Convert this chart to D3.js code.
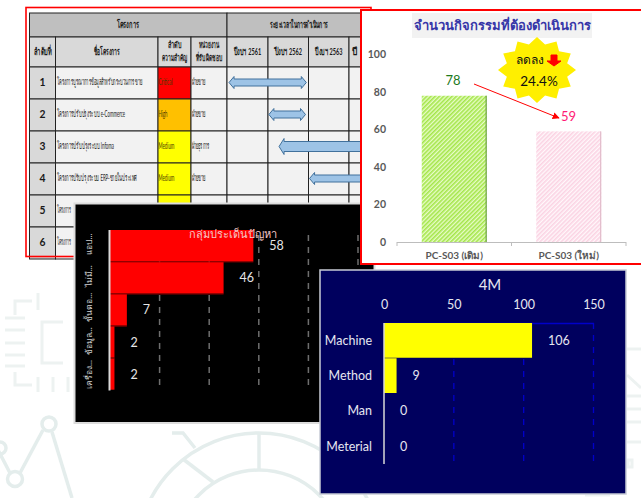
<!DOCTYPE html>
<html><head><meta charset="utf-8">
<script src="https://cdn.jsdelivr.net/npm/d3@7"></script>
<style>html,body{margin:0;padding:0;background:#fff}svg{display:block}text{font-family:Lato,"Noto Sans",sans-serif}</style>
</head><body><div id="c"></div>
<script>
// ---- data ----
const tableIds = [1,2,3,4,5,6];
const tableNames = ["โครงการบูรณาการข้อมูลสำหรับกระบวนการขาย","โครงการปรับปรุงระบบ e-Commerce","โครงการปรับปรุงระบบ Infoma","โครงการปรับปรุงระบบ ERP-ขายในประเทศ","โครงการ","โครงการ"];
const tablePriority = ["Critical","High","Medium","Medium"];
const tableUnits = ["ฝ่ายขาย","ฝ่ายขาย","ฝ่ายธุรการ","ฝ่ายขาย"];
const tableYears = ["ปีงบฯ 2561","ปีงบฯ 2562","ปีงบฯ 2563","ปี"];
const tableStart = [2561.05,2562.03,2562.28,2563.03,null,null];
const tableEnd = [2562.95,2562.93,2565.2,2565.2,null,null];
const actCats = ["PC-S03 (เดิม)","PC-S03 (ใหม่)"];
const actVals = [78,59];
const issueCats = ["แอป...","ไม่มี...","ขั้นตอ...","ข้อมูล...","เครื่อง..."];
const issueVals = [58,46,7,2,2];
const mCats = ["Machine","Method","Man","Meterial"];
const mVals = [106,9,0,0];

const W=641,H=498;
const svg=d3.select("#c").append("svg").attr("width",W).attr("height",H);
const defs=svg.append("defs");
function hatch(id,bg,fg){
  const p=defs.append("pattern").attr("id",id).attr("width",3).attr("height",3).attr("patternUnits","userSpaceOnUse").attr("patternTransform","rotate(-45)");
  p.append("rect").attr("width",3).attr("height",3).attr("fill",bg);
  p.append("rect").attr("width",3).attr("height",1.6).attr("fill",fg);
}
hatch("hg","#e8fcc8","#a4e64a");
hatch("hp","#fff8fb","#fbd3e3");
defs.append("marker").attr("id","ah").attr("viewBox","0 0 10 10").attr("refX",9).attr("refY",5).attr("markerWidth",7).attr("markerHeight",7).attr("markerUnits","userSpaceOnUse").attr("orient","auto")
  .append("path").attr("d","M0,0L10,5L0,10Z").attr("fill","#f00");

// ---- watermark background ----
const wmPale=svg.append("g").attr("fill","none").attr("stroke","#edf2f1").attr("stroke-width",3);
["M32,301H15V315","M38,293V310","M5,318H25","M5,330H25","M5,343H25","M5,355H25","M5,366H25","M63,322H42V363H63","M15,372V385H32","M38,377V392","M53,377V392","M68,377V392",
 "M627,349H641","M627,375L641,388","M627,396H641","M627,409H641","M627,422H641","M627,442H641","M628,460H632V467H628Z","M585,495H610"
].forEach(d=>wmPale.append("path").attr("d",d));
const wm=svg.append("g").attr("fill","none").attr("stroke","#e4edec").attr("stroke-width",3.5);
["M-2,450L10,473","M20,473L43,430","M52,432L72,498","M183,459L213,482","M172,433H183L195,448","M259,433V470"].forEach(d=>wm.append("path").attr("d",d));
[[49,424,7],[15,479,7.5],[0,448,6],[259,555,122],[259,555,85]].forEach(c=>wm.append("circle").attr("cx",c[0]).attr("cy",c[1]).attr("r",c[2]));

// ---- table panel ----
const T=svg.append("g");
const colX=[29.5,55.5,158,191,227,268,308.5,349,390];
const rowY=[13,37,67,99,131,163,195,227,259];
const cell=(x0,x1,y0,y1,f)=>T.append("rect").attr("x",x0).attr("y",y0).attr("width",x1-x0).attr("height",y1-y0).attr("fill",f).attr("stroke","#222").attr("stroke-width",1);
// squeezed text: fitted to a width by a horizontal scale, as in the narrow table font
function label(g,x,y,txt,w,o={}){
  const t=g.append("text").attr("font-size",o.fs||10).attr("fill",o.fill||"#1a1a1a").attr("font-weight",o.bold?"bold":"normal").attr("text-anchor",o.anchor||"middle").attr("dominant-baseline","middle").attr("font-family","'Noto Sans',sans-serif").text(txt);
  const sx=w?w/t.node().getComputedTextLength():1;
  t.attr("transform",`translate(${x},${y}) scale(${sx},1)`);
  return t;
}
T.append("rect").attr("x",26).attr("y",7.5).attr("width",345).attr("height",249).attr("fill","#fff").attr("stroke","none");
cell(colX[0],colX[4],rowY[0],rowY[1],"#bfbfbf");
cell(colX[4],colX[8],rowY[0],rowY[1],"#bfbfbf");
label(T,128,25,"โครงการ",22,{bold:1});
label(T,299,25,"ระยะเวลาในการดำเนินการ",59,{bold:1});
const heads=[["ลำดับที่"],["ชื่อโครงการ"],["ลำดับ","ความสำคัญ"],["หน่วยงาน","ที่รับผิดชอบ"]];
heads.forEach((h,i)=>{
  cell(colX[i],colX[i+1],rowY[1],rowY[2],"#d9d9d9");
  const cx=(colX[i]+colX[i+1])/2;
  if(h.length==1) label(T,cx,52.5,h[0],i?26:18,{bold:1});
  else {label(T,cx,46,h[0],i==2?14:20,{bold:1,fs:9});label(T,cx,59,h[1],i==2?25:26,{bold:1,fs:9});}
});
tableYears.forEach((y,i)=>{
  cell(colX[4+i],colX[5+i],rowY[1],rowY[2],"#d9d9d9");
  if(i<3) label(T,(colX[4+i]+colX[5+i])/2,52.5,y,27,{bold:1});
  else label(T,colX[7]+3,52.5,y,5,{bold:1,anchor:"start"});
});
const prioColor={Critical:"#ff0000",High:"#ffc000",Medium:"#ffff00"};
const yearX=d3.scaleLinear().domain([2561,2564]).range([colX[4],colX[7]]);
tableIds.forEach((id,i)=>{
  const y0=rowY[i+2],y1=rowY[i+3],m=(y0+y1)/2;
  cell(colX[0],colX[1],y0,y1,"#d9d9d9");
  label(T,42.5,m,id,6,{bold:1,fs:12});
  cell(colX[1],colX[2],y0,y1,"#f2f2f2");
  const nw=[85,67,56,78,14,14][i];
  label(T,56.5,m,tableNames[i],nw,{anchor:"start",fs:9.5});
  cell(colX[2],colX[3],y0,y1,prioColor[tablePriority[i]]||"#ffff00");
  if(tablePriority[i]) label(T,158.5,m,tablePriority[i],[14,9,16,16][i],{anchor:"start",fs:9.5,fill:"#4a3c00"});
  cell(colX[3],colX[4],y0,y1,"#f2f2f2");
  if(tableUnits[i]) label(T,191.5,m,tableUnits[i],[15,15,19,15][i],{anchor:"start",fs:9.5});
  for(let k=0;k<4;k++) cell(colX[4+k],colX[5+k],y0,y1,"#f2f2f2");
  if(tableStart[i]!=null){
    const a=yearX(tableStart[i]),b=yearX(tableEnd[i]),hw=i==2?8:6,ih=i==2?5:3.5,hl=5;
    const d=`M${a},${m-0.5}L${a+hl},${m-hw-0.5}V${m-ih-0.5}H${b-hl}V${m-hw-0.5}L${b},${m-0.5}L${b-hl},${m+hw-0.5}V${m+ih-0.5}H${a+hl}V${m+hw-0.5}Z`;
    T.append("path").attr("d",d).attr("fill","#9dc3e6").attr("stroke","#41719c").attr("stroke-width",1);
  }
});
T.append("rect").attr("x",26).attr("y",7.5).attr("width",345).attr("height",249).attr("fill","none").attr("stroke","#f00").attr("stroke-width",1.6);

// ---- issues chart (black) ----
const B=svg.append("g");
B.append("rect").attr("x",74.5).attr("y",203.5).attr("width",300).attr("height",219.5).attr("fill","#000").attr("stroke","#dcdcdc").attr("stroke-width",2);
const ix=d3.scaleLinear().domain([0,100]).range([109.5,357.5]);
const iy=d3.scaleBand().domain(issueCats).range([230,390.5]).padding(0);
const igrid=B.append("g").attr("transform","translate(0,385)").call(d3.axisBottom(ix).tickValues([20,40,60,80,100]).tickSize(-155).tickFormat(""));
igrid.select(".domain").remove();
igrid.selectAll("line").attr("stroke","#6e6e6e").attr("stroke-width",1.5).attr("stroke-dasharray","6,6");
B.selectAll(".ib").data(issueVals).join("rect").attr("x",ix(0)).attr("y",(d,i)=>iy(issueCats[i])).attr("width",d=>ix(d)-ix(0)).attr("height",iy.bandwidth()-0.8).attr("fill","#f00");
B.selectAll(".isep").data(issueVals.slice(0,4)).join("line").attr("x1",ix(0)).attr("x2",(d,i)=>ix(Math.max(d,issueVals[i+1]))).attr("y1",(d,i)=>iy(issueCats[i+1])-0.3).attr("y2",(d,i)=>iy(issueCats[i+1])-0.3).attr("stroke","#b00000").attr("stroke-width",1);
B.append("line").attr("x1",ix(0)).attr("x2",ix(0)).attr("y1",230).attr("y2",390.5).attr("stroke","#d9d9d9").attr("stroke-width",2);
B.selectAll(".iv").data(issueVals).join("text").attr("x",d=>ix(d)+16).attr("y",(d,i)=>iy(issueCats[i])+iy.bandwidth()/2+1).attr("dominant-baseline","middle").attr("fill","#e6e6e6").attr("font-size",12.5).text(d=>d);
B.selectAll(".ic").data(issueCats).join("text").attr("transform",(d,i)=>`translate(90,${iy(d)+iy.bandwidth()/2+[-2,-2,-3,-1,0][i]}) rotate(-90)`).attr("text-anchor","middle").attr("dominant-baseline","middle").attr("fill","#d0d0d0").attr("font-family","'Noto Sans',sans-serif").attr("font-size",8.5).text(d=>d);
B.append("text").attr("x",233).attr("y",235).attr("text-anchor","middle").attr("dominant-baseline","middle").attr("fill","#f5c8c8").attr("font-family","'Noto Sans',sans-serif").attr("font-size",11).text("กลุ่มประเด็นปัญหา");

// ---- activities chart (white with red frame) ----
const A=svg.append("g");
A.append("rect").attr("x",361).attr("y",10).attr("width",290).attr("height",254).attr("fill","#fff").attr("stroke","#f00").attr("stroke-width",2);
A.append("rect").attr("x",412).attr("y",13).attr("width",180).attr("height",25).attr("fill","#f2f2f2");
A.append("text").attr("x",502).attr("y",27).attr("text-anchor","middle").attr("dominant-baseline","middle").attr("fill","#3636a8").attr("font-weight","bold").attr("font-family","'Noto Sans',sans-serif").attr("font-size",13).text("จำนวนกิจกรรมที่ต้องดำเนินการ");
const ay=d3.scaleLinear().domain([0,100]).range([242,54.5]);
const ax=d3.scaleBand().domain(actCats).range([397,626]).paddingInner(0).paddingOuter(0);
const yA=A.append("g").attr("transform","translate(386,0)").call(d3.axisLeft(ay).tickValues([0,20,40,60,80,100]).tickSize(0));
yA.select(".domain").remove();
yA.selectAll("text").attr("fill","#595959").attr("font-size",10.5).attr("font-weight","bold").attr("x",0);
const bw=65, barX=c=>ax(c)+ax.bandwidth()/2-bw/2;
A.selectAll(".ab").data(actVals).join("rect").attr("x",(d,i)=>barX(actCats[i])).attr("y",d=>ay(d)).attr("width",bw).attr("height",d=>ay(0)-ay(d)).attr("fill",(d,i)=>i?"url(#hp)":"url(#hg)");
A.selectAll(".ae").data(actVals).join("rect").attr("x",(d,i)=>barX(actCats[i])+bw-1.2).attr("y",d=>ay(d)).attr("width",1.2).attr("height",d=>ay(0)-ay(d)).attr("fill",(d,i)=>i?"#e2bccb":"#6fa34a");
A.append("line").attr("x1",397).attr("x2",626).attr("y1",242.5).attr("y2",242.5).attr("stroke","#bdbdbd").attr("stroke-width",1);
[397,511.5,626].forEach(x=>A.append("line").attr("x1",x).attr("x2",x).attr("y1",242).attr("y2",246).attr("stroke","#bdbdbd"));
A.selectAll(".ac").data(actCats).join("text").attr("x",(d,i)=>ax(d)+ax.bandwidth()/2).attr("y",256).attr("text-anchor","middle").attr("dominant-baseline","middle").attr("fill","#595959").attr("font-weight","bold").attr("font-family","'Noto Sans',sans-serif").attr("font-size",10).text(d=>d);
A.append("text").attr("x",453).attr("y",82).attr("text-anchor","middle").attr("dominant-baseline","middle").attr("fill","#1e7a1e").attr("font-size",13).text(actVals[0]);
A.append("text").attr("x",568.5).attr("y",118).attr("text-anchor","middle").attr("dominant-baseline","middle").attr("fill","#ff1a75").attr("font-size",13).text(actVals[1]);
A.append("line").attr("x1",474).attr("y1",84).attr("x2",559).attr("y2",118).attr("stroke","#f00").attr("stroke-width",1).attr("marker-end","url(#ah)");
// star badge
const starPts=d3.range(24).map(i=>{const a=i*Math.PI/12-Math.PI/2,r=i%2?0.8:1;return [537+39*r*Math.cos(a),70+33*r*Math.sin(a)];});
A.append("polygon").attr("points",starPts.join(" ")).attr("fill","#ffef00");
A.append("text").attr("x",530).attr("y",61).attr("text-anchor","middle").attr("dominant-baseline","middle").attr("font-family","'Noto Sans',sans-serif").attr("font-size",12).attr("fill","#111").text("ลดลง");
A.append("path").attr("d","M551,55H557V61H561L554,66L547,61H551Z").attr("fill","#f00").attr("stroke","#f00").attr("stroke-width",1);
A.append("text").attr("x",539).attr("y",83).attr("text-anchor","middle").attr("dominant-baseline","middle").attr("font-size",13.5).attr("fill","#111").text("24.4%");

// ---- 4M chart (navy) ----
const M=svg.append("g");
M.append("rect").attr("x",320).attr("y",270).attr("width",306).attr("height",224).attr("fill","#00005e").attr("stroke","#c8ccd6").attr("stroke-width",1.5);
M.append("text").attr("x",490).attr("y",286).attr("text-anchor","middle").attr("dominant-baseline","middle").attr("fill","#e6e6f0").attr("font-size",15).text("4M");
const mx=d3.scaleLinear().domain([0,150]).range([384,593.5]);
const my=d3.scaleBand().domain(mCats).range([323,464]).padding(0);
const mAxis=M.append("g").attr("transform","translate(0,323)").call(d3.axisTop(mx).tickValues([0,50,100,150]).tickSize(0));
mAxis.select(".domain").attr("stroke","#0000c8").attr("stroke-width",1.5);
mAxis.selectAll("text").attr("fill","#e6e6f0").attr("font-size",12.5).attr("y",-17).attr("dominant-baseline","middle");
mx.ticks(3).filter(v=>v>0).forEach(v=>M.append("line").attr("x1",mx(v)).attr("x2",mx(v)).attr("y1",323).attr("y2",464).attr("stroke","#0000c8").attr("stroke-width",1.3).attr("stroke-dasharray","6,6"));
M.selectAll(".mb").data(mVals).join("rect").attr("x",mx(0)).attr("y",(d,i)=>my(mCats[i])).attr("width",d=>mx(d)-mx(0)).attr("height",my.bandwidth()-0.5).attr("fill","#ffff00");
M.append("line").attr("x1",mx(0)).attr("x2",mx(0)).attr("y1",323).attr("y2",464).attr("stroke","#d9d9d9").attr("stroke-width",1.5);
M.selectAll(".mv").data(mVals).join("text").attr("x",d=>mx(d)+16).attr("y",(d,i)=>my(mCats[i])+my.bandwidth()/2+1).attr("dominant-baseline","middle").attr("fill","#e6e6f0").attr("font-size",12.5).text(d=>d);
M.selectAll(".mc").data(mCats).join("text").attr("x",372).attr("y",d=>my(d)+my.bandwidth()/2+1).attr("text-anchor","end").attr("dominant-baseline","middle").attr("fill","#e6e6f0").attr("font-size",12.5).text(d=>d);
</script></body></html>
